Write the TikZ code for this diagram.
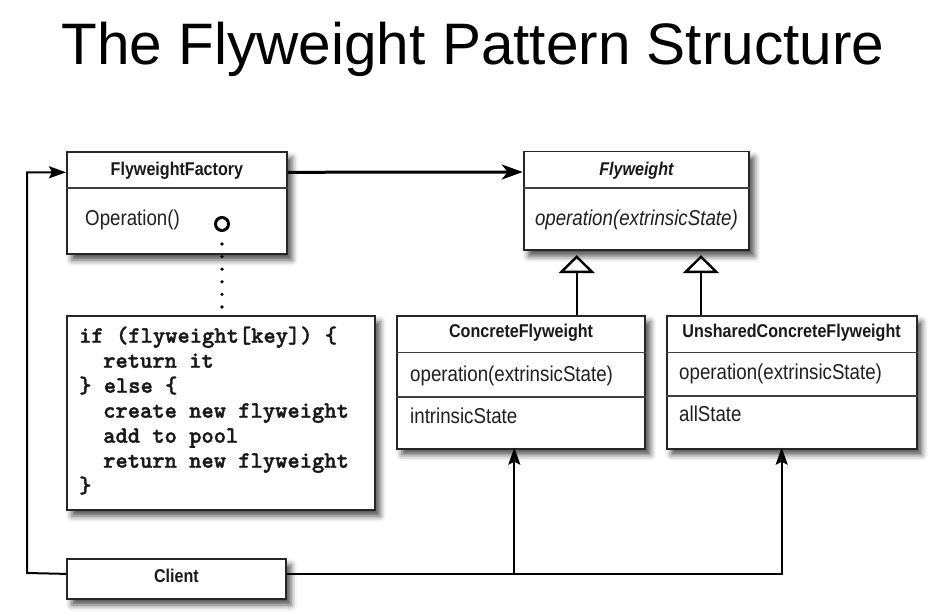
\documentclass[tikz,border=0pt]{standalone}
\usepackage{fontspec}
\setmainfont{Liberation Sans}
\newfontfamily\umlfont[FakeStretch=0.87]{Liberation Sans}
\newfontfamily\codefont[FakeBold=1.6]{lmmonolt10-bold.otf}
\usetikzlibrary{arrows.meta,shadows.blur,calc}
\tikzset{
  umlbox/.style={draw=black!85, line width=1.8pt, fill=white, rectangle, inner sep=0pt,
    anchor=north west,
    blur shadow={shadow xshift=5pt, shadow yshift=-6pt, shadow blur radius=6pt, shadow opacity=70}},
  divline/.style={draw=black!75, line width=1.6pt},
  hdr/.style={font=\umlfont\bfseries\fontsize{18.5}{20}\selectfont, anchor=base, inner sep=0pt, text=black!90},
  body/.style={font=\umlfont\fontsize{21.5}{24}\selectfont, anchor=base west, inner sep=0pt, text=black!88},
  codeline/.style={font=\codefont\fontsize{23.4}{25}\selectfont, anchor=base west, inner sep=0pt, text=black!90},
  assoc/.style={line width=3pt, -{Stealth[length=21pt, width=15pt, inset=6pt]}},
  conn/.style={line width=2pt, -{Stealth[length=17pt, width=12pt, inset=3pt]}},
  inherit/.style={line width=2.4pt, -{Triangle[open, length=18pt, width=36pt]}, shorten >=4pt},
}
\begin{document}
\begin{tikzpicture}[x=1pt, y=-1pt]
\useasboundingbox (0,0) rectangle (937,612);

% title
\node[font=\fontsize{58.5}{60}\selectfont, anchor=base, inner sep=0pt] (title) at (473,65) {The Flyweight Pattern Structure};

% boxes
\node[umlbox, minimum width=220pt, minimum height=102pt] (ff) at (66,151) {};
\node[umlbox, minimum width=225.6pt, minimum height=98.6pt] (fw) at (522.7,150.7) {};
\node[umlbox, minimum width=248.3pt, minimum height=132.7pt] (cf) at (396,315) {};
\node[umlbox, minimum width=250pt, minimum height=132.7pt] (ucf) at (665.7,315) {};
\node[umlbox, minimum width=308pt, minimum height=194pt] (code) at (66,315) {};
\node[umlbox, minimum width=219pt, minimum height=40pt] (cl) at (66,558) {};

% dividers
\draw[divline] (ff.west |- 0,188) -- (ff.east |- 0,188);
\draw[divline] (fw.west |- 0,188.3) -- (fw.east |- 0,188.3);
\draw[divline] (cf.west |- 0,352.3) -- (cf.east |- 0,352.3);
\draw[divline] (cf.west |- 0,396.7) -- (cf.east |- 0,396.7);
\draw[divline] (ucf.west |- 0,352.3) -- (ucf.east |- 0,352.3);
\draw[divline] (ucf.west |- 0,395.7) -- (ucf.east |- 0,395.7);

% texts
\node[hdr] (ffh) at (ff.center |- 0,175.7) {FlyweightFactory};
\node[body] (ffop) at (85,226) {Operation()};
\node[hdr, font=\umlfont\bfseries\itshape\fontsize{18.5}{20}\selectfont] (fwh) at (fw.center |- 0,175.7) {Flyweight};
\node[body, anchor=base, font=\umlfont\itshape\fontsize{21.5}{24}\selectfont] (fwop) at (fw.center |- 0,226) {operation(extrinsicState)};
\node[hdr] (cfh) at (cf.center |- 0,337.5) {ConcreteFlyweight};
\node[body] (cfop) at (410,381.7) {operation(extrinsicState)};
\node[body] (cfst) at (410,423.3) {intrinsicState};
\node[hdr] (ucfh) at (ucf.center |- 0,337.7) {UnsharedConcreteFlyweight};
\node[body] (ucfop) at (679,379.3) {operation(extrinsicState)};
\node[body] (ucfst) at (679,421.7) {allState};
\node[hdr] (clh) at (cl.center |- 0,582.7) {Client};

% code
\node[codeline] (c1) at (79,342.7) {if (flyweight[key]) \{};
\node[codeline] (c2) at (103,367.7) {return it};
\node[codeline] (c3) at (79,392.7) {\} else \{};
\node[codeline] (c4) at (103,417.7) {create new flyweight};
\node[codeline] (c5) at (103,442.7) {add to pool};
\node[codeline] (c6) at (103,467.7) {return new flyweight};
\node[codeline] (c7) at (79,492.7) {\}};

% note attachment
\node[circle, draw=black, line width=3pt, minimum size=13pt, inner sep=0pt] (knob) at (222,224) {};
\draw[line width=3.6pt, line cap=round, dash pattern=on 0pt off 12.6pt] (222,244) -- (222,307.5);

% connectors
\coordinate (ffin) at ([yshift=-21.3pt]ff.north west);
\coordinate (ffout) at ([yshift=-21.3pt]ff.north east);
\coordinate (fwin) at ([yshift=-21.3pt]fw.north west);
\draw[assoc] (ffout) -- (fwin);

\coordinate (clw) at ([yshift=5pt]cl.west);
\coordinate (cle) at ([yshift=5pt]cl.east);
\coordinate (corner) at (27,573);
\draw[conn] (clw) -- (corner) |- (ffin);

\coordinate (cfin) at (514.3,447.7);
\coordinate (ucfin) at (781.7,447.7);
\coordinate (junc) at (cfin |- cle);
\draw[conn] (cle) -| (cfin);
\draw[conn] (junc) -| (ucfin);

\draw[inherit] (cf.north -| 576.7,0) -- (fw.south -| 576.7,0);
\draw[inherit] (ucf.north -| 701,0) -- (fw.south -| 701,0);
\end{tikzpicture}
\end{document}
